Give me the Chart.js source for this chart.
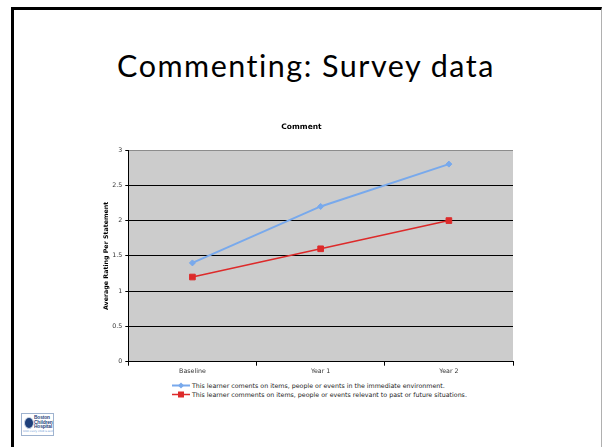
<!DOCTYPE html>
<html>
<head>
<meta charset="utf-8">
<script src="https://cdn.jsdelivr.net/npm/chart.js@4/dist/chart.umd.min.js"></script>
<style>
  html, body { margin: 0; padding: 0; background: #fff; }
  body { width: 602px; height: 447px; position: relative; overflow: hidden; }
  #slide {
    position: absolute; left: 11px; top: 7px; width: 587px; height: 460px;
    border-left: 3px solid #000; border-top: 3px solid #000; border-right: 1px solid #b0b0b0;
  }
  #title {
    position: absolute; left: 5px; width: 602px; top: 47px; text-align: center;
    font-family: Lato, sans-serif; font-size: 30.5px; letter-spacing: 1.5px; color: #000; white-space: nowrap;
  }
  #chart-box { position: absolute; left: 90px; top: 110px; width: 440px; height: 270px; }
  .legend-row {
    position: absolute; left: 172px; height: 9px; display: flex; align-items: center;
    font-family: "DejaVu Sans", sans-serif; font-size: 6.3px; color: #222; white-space: nowrap;
  }
  .legend-row canvas { margin-right: 2px; }
  #logo {
    position: absolute; left: 21px; top: 413px; width: 31px; height: 21px;
    border: 1px solid #9fb3cf; background: #fff; overflow: hidden;
  }
  #logo .seal {
    position: absolute; left: 2px; top: 3px; width: 8px; height: 10px; border-radius: 50%;
    background: #1e3f7a; border: 1px solid #c9d4e6;
  }
  #logo .name {
    position: absolute; left: 12px; top: 2px; font-family: "Liberation Sans", sans-serif;
    font-size: 4.8px; line-height: 4.7px; font-weight: bold; color: #1e3f7a; letter-spacing: -0.1px;
  }
  #logo .tag {
    position: absolute; left: 1px; top: 16px; font-family: "DejaVu Sans", sans-serif;
    font-size: 2.6px; color: #5b8fd0; white-space: nowrap;
  }
</style>
</head>
<body>
<div id="slide"></div>
<div id="title">Commenting: Survey data</div>
<div id="chart-box"><canvas id="survey_canvas"></canvas></div>
<div class="legend-row" id="legend1" style="top:381px"></div>
<div class="legend-row" id="legend2" style="top:390px"></div>
<div id="logo">
  <div class="seal"></div>
  <div class="name">Boston<br>Children's<br>Hospital</div>
  <div class="tag">Until every child is well</div>
</div>
<script>
// chart data
var categories = ["Baseline", "Year 1", "Year 2"];
var seriesNames = [
    "This learner coments on items, people or events in the immediate environment.",
    "This learner comments on items, people or events relevant to past or future situations."
];
var immediateValues = [1.4, 2.2, 2.8];
var pastFutureValues = [1.2, 1.6, 2.0];
var seriesColors = ["#78a9ec", "#dd2a2a"];

// grey plot background behind the lines
var plotBackground = {
    id: "plotBackground",
    beforeDraw: function (chart) {
        var a = chart.chartArea;
        var ctx = chart.ctx;
        ctx.save();
        ctx.fillStyle = "#cccccc";
        ctx.fillRect(a.left, a.top, a.right - a.left, a.bottom - a.top);
        ctx.restore();
    },
};

var survey_canvas = document.getElementById("survey_canvas");

var surveyChart = new Chart(survey_canvas, {
    type: "line",
    data: {
        labels: categories,
        datasets: [
            {
                label: seriesNames[0],
                data: immediateValues,
                borderColor: seriesColors[0],
                backgroundColor: seriesColors[0],
                borderWidth: 2,
                pointStyle: "rectRot",
                pointRadius: 3,
                pointBorderWidth: 1,
            },
            {
                label: seriesNames[1],
                data: pastFutureValues,
                borderColor: seriesColors[1],
                backgroundColor: seriesColors[1],
                borderWidth: 1.5,
                pointStyle: "rect",
                pointRadius: 4,
                pointBorderWidth: 1,
            },
        ],
    },
    options: {
        responsive: true,
        maintainAspectRatio: false,
        animation: false,
        layout: { padding: { left: 0, right: 17, top: 0, bottom: 0 } },
        plugins: {
            legend: { display: false },
            tooltip: { enabled: false },
            title: {
                display: true,
                text: "Comment",
                color: "#000",
                font: { family: "DejaVu Sans", size: 7.5, weight: "bold", lineHeight: 1.2 },
                padding: { top: 12.8, bottom: 18.2 },
            },
        },
        scales: {
            x: {
                offset: true,
                afterFit: function (scale) { scale.height = 18.3; },
                border: { color: "#000", width: 1 },
                grid: {
                    offset: true,
                    drawTicks: true,
                    tickLength: 4,
                    tickColor: "#000",
                    color: function (ctx) {
                        return ctx.index === categories.length ? "#8c8c8c" : "rgba(0,0,0,0)";
                    },
                },
                ticks: {
                    color: "#333",
                    padding: 2,
                    font: { family: "DejaVu Sans", size: 6.3 },
                },
            },
            y: {
                min: 0,
                max: 3,
                afterFit: function (scale) { scale.width = 38.3; },
                border: { color: "#000", width: 1 },
                grid: {
                    drawTicks: true,
                    tickLength: 3,
                    tickColor: "#000",
                    color: function (ctx) {
                        return ctx.tick && ctx.tick.value === 3 ? "#8c8c8c" : "#000";
                    },
                },
                ticks: {
                    stepSize: 0.5,
                    color: "#333",
                    padding: 3,
                    font: { family: "DejaVu Sans", size: 6.3 },
                    callback: function (value) { return String(value); },
                },
                title: {
                    display: true,
                    text: "Average Rating Per Statement",
                    color: "#000",
                    font: { family: "DejaVu Sans", size: 6.3, weight: "bold", lineHeight: 1.2 },
                    padding: { top: 13, bottom: 0 },
                },
            },
        },
    },
    plugins: [plotBackground],
});

// legend rows below the chart, built from the datasets
function buildLegendRow(el, ds) {
    var sw = document.createElement("canvas");
    sw.width = 18;
    sw.height = 9;
    var c = sw.getContext("2d");
    c.strokeStyle = ds.borderColor;
    c.lineWidth = ds.borderWidth;
    c.beginPath();
    c.moveTo(0, 4.5);
    c.lineTo(18, 4.5);
    c.stroke();
    c.fillStyle = ds.backgroundColor;
    if (ds.pointStyle === "rect") {
        c.fillRect(6, 1.5, 6, 6);
    } else {
        c.beginPath();
        c.moveTo(9, 1.5);
        c.lineTo(12, 4.5);
        c.lineTo(9, 7.5);
        c.lineTo(6, 4.5);
        c.closePath();
        c.fill();
    }
    el.appendChild(sw);
    var span = document.createElement("span");
    span.textContent = ds.label;
    el.appendChild(span);
}

buildLegendRow(document.getElementById("legend1"), surveyChart.data.datasets[0]);
buildLegendRow(document.getElementById("legend2"), surveyChart.data.datasets[1]);
</script>
</body>
</html>
